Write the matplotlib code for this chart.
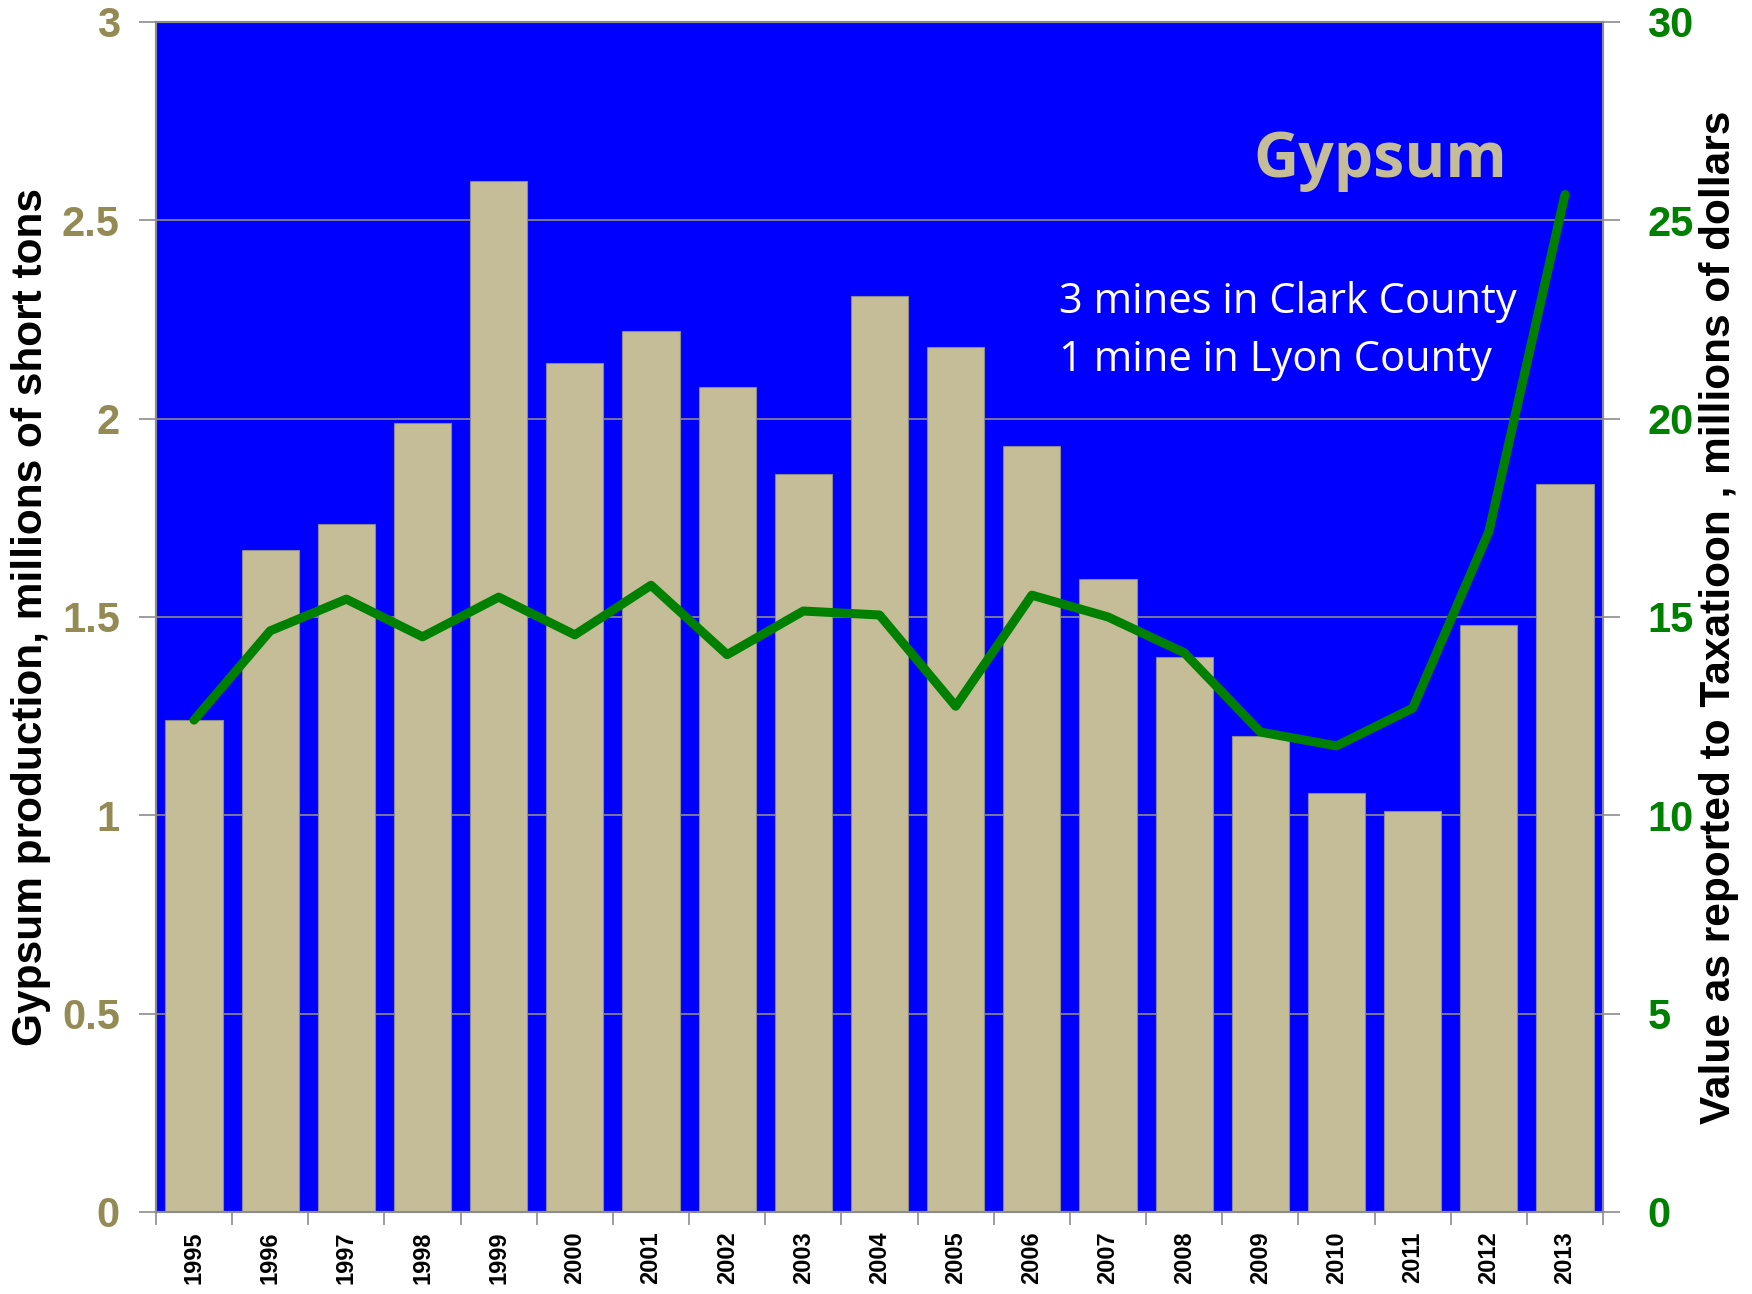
import numpy as np
import matplotlib
matplotlib.use('Agg')
import matplotlib.pyplot as plt

# datos
anos = ['1995', '1996', '1997', '1998', '1999', '2000', '2001', '2002', '2003', '2004',
        '2005', '2006', '2007', '2008', '2009', '2010', '2011', '2012', '2013']
producao = [1.24, 1.67, 1.735, 1.99, 2.60, 2.14, 2.22, 2.08, 1.86, 2.31,
            2.18, 1.93, 1.595, 1.40, 1.20, 1.055, 1.01, 1.48, 1.835]
valor = [12.4, 14.65, 15.45, 14.5, 15.5, 14.55, 15.8, 14.05, 15.15, 15.05,
         12.75, 15.55, 15.0, 14.1, 12.1, 11.75, 12.7, 17.15, 25.65]

cor_barra = '#C4BD97'
cor_eixo_esq = '#948A54'
cor_linha = '#008000'
cinza = '#8C8C8C'

plt.rcParams['font.family'] = ['Liberation Sans', 'DejaVu Sans']

fig = plt.figure(figsize=(17.52, 12.94), dpi=100, facecolor='w')
ax = fig.add_axes([0.089, 0.0634, 0.826, 0.9196])
ax.set_facecolor('#0000FF')

x = np.arange(len(anos))
ax.bar(x, producao, width=0.75, color=cor_barra, edgecolor=cinza, linewidth=0.8, zorder=3)
ax.set_xlim(-0.5, len(anos) - 0.5)
ax.set_ylim(0, 3)
ax.set_yticks([0, 0.5, 1, 1.5, 2, 2.5, 3])
ax.set_yticklabels(['0', '0.5', '1', '1.5', '2', '2.5', '3'])
ax.yaxis.grid(True, color=cinza, linewidth=1.2, zorder=1)
ax.set_axisbelow(True)

# rotulos do eixo x no centro, marcas nas divisas
ax.set_xticks(x)
ax.set_xticklabels(anos, rotation=90, fontsize=17, fontweight='bold')
ax.set_xticks(np.arange(-0.5, len(anos)), minor=True)
ax.tick_params(axis='x', which='major', length=0, pad=14)
ax.tick_params(axis='x', which='minor', length=9, color=cinza, width=1.2)
ax.tick_params(axis='y', length=12, color=cinza, width=1.2, labelsize=30,
               labelcolor=cor_eixo_esq, pad=14)
for t in ax.get_yticklabels():
    t.set_fontweight('bold')

for s in ax.spines.values():
    s.set_color(cinza)
    s.set_linewidth(1.5)

ax.set_ylabel('Gypsum production, millions of short tons', fontsize=30.5,
              fontweight='bold', color='black', labelpad=8)

ax2 = ax.twinx()
ax2.plot(x, valor, color=cor_linha, linewidth=6.5, solid_capstyle='round', zorder=5)
ax2.set_ylim(0, 30)
ax2.set_yticks([0, 5, 10, 15, 20, 25, 30])
ax2.tick_params(axis='y', length=12, color=cinza, width=1.2, labelsize=30,
                labelcolor=cor_linha, pad=20)
for t in ax2.get_yticklabels():
    t.set_fontweight('bold')
for s in ax2.spines.values():
    s.set_color(cinza)
    s.set_linewidth(1.5)
ax2.set_ylabel('Value as reported to Taxatioon , millions of dollars', fontsize=30.5,
               fontweight='bold', color='black', labelpad=4)

ax.text(0.846, 0.884, 'Gypsum', transform=ax.transAxes, fontsize=45,
        fontweight='bold', color=cor_barra, ha='center', va='center',
        family=['Open Sans', 'DejaVu Sans'], zorder=6)
ax.text(0.624, 0.765, '3 mines in Clark County', transform=ax.transAxes, fontsize=30,
        color='white', ha='left', va='center', family=['Open Sans', 'DejaVu Sans'], zorder=6)
ax.text(0.624, 0.716, '1 mine in Lyon County', transform=ax.transAxes, fontsize=30,
        color='white', ha='left', va='center', family=['Open Sans', 'DejaVu Sans'], zorder=6)

plt.savefig('out.png', dpi=100, facecolor='w')
